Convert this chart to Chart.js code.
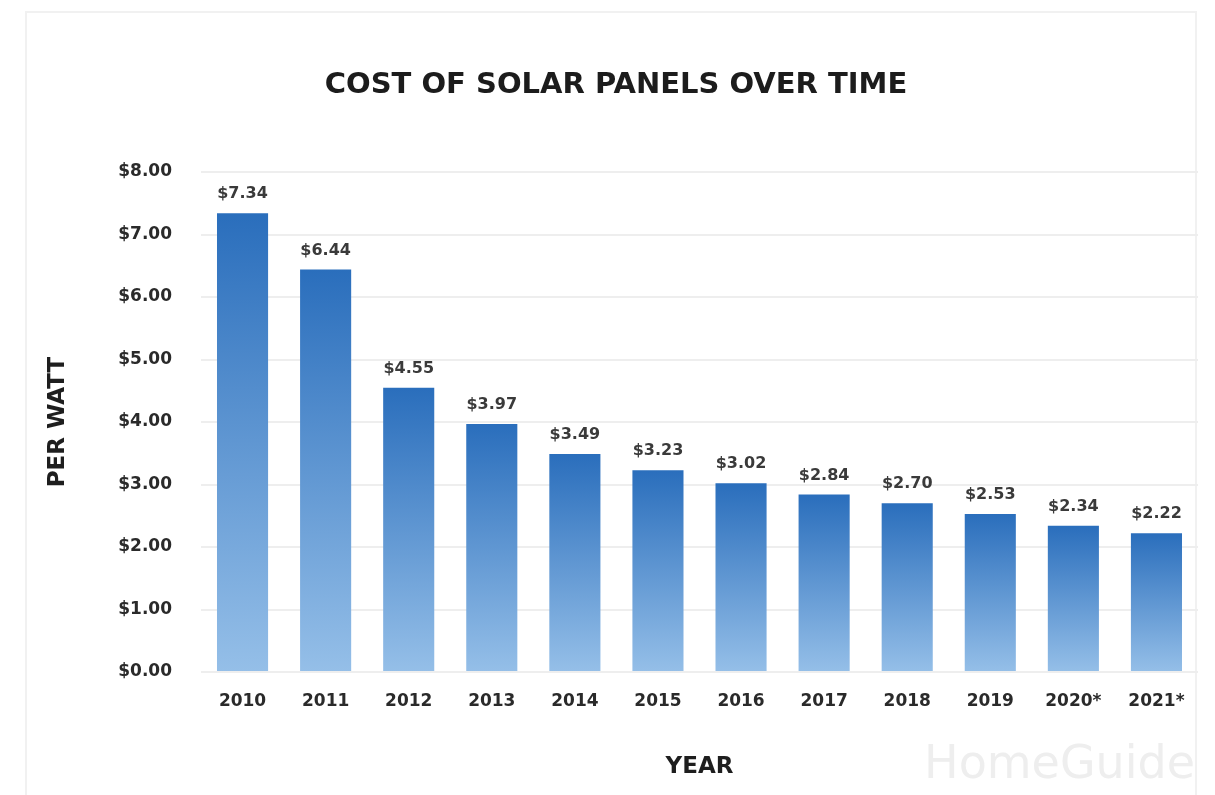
<!DOCTYPE html>
<html>
<head>
<meta charset="utf-8">
<script src="https://cdn.jsdelivr.net/npm/chart.js@4"></script>
<style>
  html, body { margin: 0; padding: 0; background: #fff; }
  #wrap { position: relative; width: 1215px; height: 795px; }
  #frame { position: absolute; left: 25px; top: 11px; width: 1172px; height: 800px;
           border: 2px solid #f1f1f1; border-bottom: none; box-sizing: border-box; }
  canvas { position: absolute; left: 0; top: 0; }
</style>
</head>
<body>
<div id="wrap">
  <div id="frame"></div>
  <canvas id="costChart" width="1215" height="795"></canvas>
</div>
<script>
// installed cost per watt, USD
const years = ['2010', '2011', '2012', '2013', '2014', '2015', '2016', '2017', '2018', '2019', '2020*', '2021*'];
const costPerWatt = [7.34, 6.44, 4.55, 3.97, 3.49, 3.23, 3.02, 2.84, 2.70, 2.53, 2.34, 2.22];
const yTicks = [0, 1, 2, 3, 4, 5, 6, 7, 8];
const chartTitle = 'COST OF SOLAR PANELS OVER TIME';

const FONT = '"DejaVu Sans", sans-serif';
const fmt = v => '$' + v.toFixed(2);

// each bar fades from deep blue at its own top to pale blue at the base
function barGradient(ctx) {
  const chart = ctx.chart;
  const y = chart.scales.y;
  if (!y || ctx.type !== 'data' || !chart.chartArea) return '#3a7cc4';
  const top = y.getPixelForValue(ctx.raw);
  const base = y.getPixelForValue(0);
  if (!isFinite(top) || base - top < 1) return '#3a7cc4';
  const g = chart.ctx.createLinearGradient(0, top, 0, base);
  g.addColorStop(0, '#2a6ebc');
  g.addColorStop(1, '#95bfe8');
  return g;
}

const valueLabels = {
  id: 'valueLabels',
  afterDatasetsDraw(chart) {
    const ctx = chart.ctx;
    const meta = chart.getDatasetMeta(0);
    ctx.save();
    ctx.font = 'bold 16px ' + FONT;
    ctx.fillStyle = '#3a3a3a';
    ctx.textAlign = 'center';
    ctx.textBaseline = 'middle';
    meta.data.forEach((bar, i) => {
      ctx.fillText(fmt(costPerWatt[i]), bar.x, bar.y - 19);
    });
    ctx.restore();
  }
};

// heading and the faint brand mark in the lower right corner
const decorations = {
  id: 'decorations',
  afterDraw(chart) {
    const ctx = chart.ctx;
    ctx.save();
    ctx.font = 'bold 29px ' + FONT;
    ctx.fillStyle = '#1c1c1c';
    ctx.textAlign = 'center';
    ctx.textBaseline = 'middle';
    ctx.fillText(chartTitle, 616, 85);

    ctx.font = '46px ' + FONT;
    ctx.fillStyle = '#eeeeee';
    ctx.textAlign = 'right';
    ctx.textBaseline = 'alphabetic';
    ctx.fillText('HomeGuide', 1195, 778);
    ctx.restore();
  }
};

new Chart(document.getElementById('costChart'), {
  type: 'bar',
  data: {
    labels: years,
    datasets: [{
      data: costPerWatt,
      backgroundColor: barGradient,
      borderWidth: 0,
      barPercentage: 0.615,
      categoryPercentage: 1
    }]
  },
  options: {
    responsive: false,
    devicePixelRatio: 1,
    animation: false,
    layout: { padding: { left: 0, right: 17, top: 172, bottom: 0 } },
    plugins: {
      legend: { display: false },
      tooltip: { enabled: false },
      title: { display: false }
    },
    scales: {
      x: {
        grid: { display: false, drawTicks: false },
        border: { display: false },
        ticks: { color: '#2a2a2a', font: { family: FONT, size: 17, weight: 'bold' }, padding: 19 },
        title: {
          display: true, text: 'YEAR', color: '#1e1e1e',
          font: { family: FONT, size: 23, weight: 'bold' },
          padding: { top: 0, bottom: 14 }
        },
        afterFit(scale) { scale.height = 123; }
      },
      y: {
        min: 0, max: 8,
        afterBuildTicks(scale) { scale.ticks = yTicks.map(v => ({ value: v })); },
        grid: { color: '#eeeeee', lineWidth: 2, drawTicks: false },
        border: { display: false },
        ticks: { color: '#2a2a2a', font: { family: FONT, size: 17, weight: 'bold' }, padding: 29, callback: v => fmt(v) },
        title: {
          display: true, text: 'PER WATT', color: '#1e1e1e',
          font: { family: FONT, size: 23, weight: 'bold' },
          padding: { top: 44, bottom: 0 }
        },
        afterFit(scale) { scale.width = 201; }
      }
    }
  },
  plugins: [valueLabels, decorations]
});
</script>
</body>
</html>
